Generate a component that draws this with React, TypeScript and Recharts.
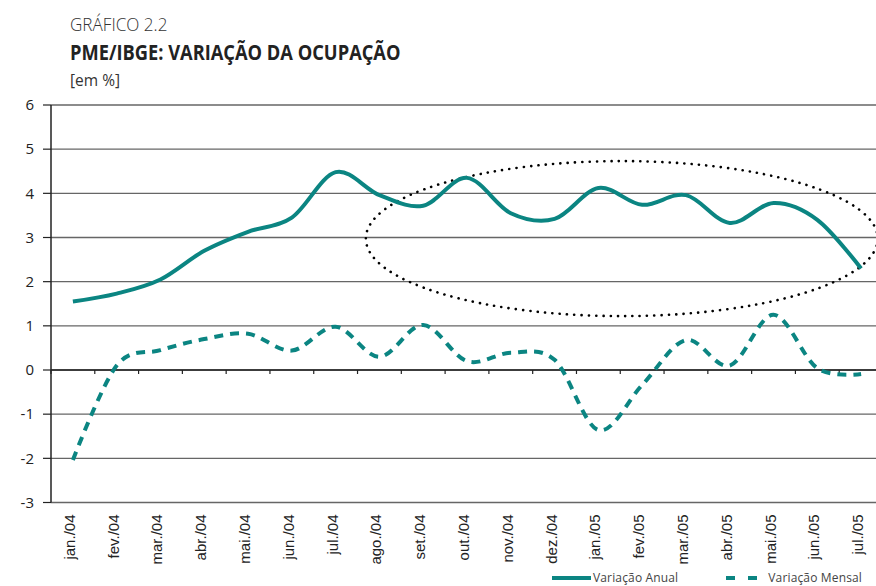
import React from 'react';
import {
  ComposedChart,
  Line,
  XAxis,
  YAxis,
  CartesianGrid,
  ReferenceLine,
  ReferenceArea,
  Legend,
} from 'recharts';

const months = [
  'jan./04', 'fev./04', 'mar./04', 'abr./04', 'mai./04', 'jun./04', 'jul./04',
  'ago./04', 'set./04', 'out./04', 'nov./04', 'dez./04', 'jan./05', 'fev./05',
  'mar./05', 'abr./05', 'mai./05', 'jun./05', 'jul./05',
];
const variacaoAnual = [
  1.55, 1.73, 2.05, 2.7, 3.13, 3.45, 4.48, 3.96, 3.72, 4.35, 3.55, 3.42, 4.12,
  3.74, 3.96, 3.33, 3.78, 3.4, 2.3,
];
const variacaoMensal = [
  -2.04, 0.1, 0.45, 0.7, 0.82, 0.44, 0.98, 0.3, 1.02, 0.2, 0.39, 0.23, -1.36,
  -0.34, 0.68, 0.1, 1.25, 0.04, -0.09,
];
const yTicks = [-3, -2, -1, 0, 1, 2, 3, 4, 5, 6];
// highlight ellipse bounds: x in category-index units, y in %
const highlightX = [6.69, 18.38];
const highlightY = [1.22, 4.73];

const TEAL = '#0b8582';

const data = months.map((m, i) => ({
  month: m,
  anual: variacaoAnual[i],
  mensal: variacaoMensal[i],
}));

// Excel-like smoothed line (uniform Catmull-Rom / cardinal with tension 0)
function excelSmooth(context: any) {
  const k = 1 / 6;
  let x0 = NaN, y0 = NaN, x1 = NaN, y1 = NaN, x2 = NaN, y2 = NaN;
  let pt = 0;
  let line: number = NaN;
  const seg = (x: number, y: number) => {
    context.bezierCurveTo(
      x1 + k * (x2 - x0),
      y1 + k * (y2 - y0),
      x2 + k * (x1 - x),
      y2 + k * (y1 - y),
      x2,
      y2
    );
  };
  return {
    areaStart() { line = 0; },
    areaEnd() { line = NaN; },
    lineStart() { x0 = x1 = x2 = y0 = y1 = y2 = NaN; pt = 0; },
    lineEnd() {
      switch (pt) {
        case 2: context.lineTo(x2, y2); break;
        case 3: seg(x1, y1); break;
      }
      if (line || (line !== 0 && pt === 1)) context.closePath();
      line = 1 - line;
    },
    point(x: number, y: number) {
      x = +x; y = +y;
      switch (pt) {
        case 0: pt = 1; line ? context.lineTo(x, y) : context.moveTo(x, y); break;
        case 1: pt = 2; x1 = x; y1 = y; break;
        case 2: pt = 3; seg(x, y); break;
        default: seg(x, y); break;
      }
      x0 = x1; x1 = x2; x2 = x;
      y0 = y1; y1 = y2; y2 = y;
    },
  };
}

const XTick = (props: any) => {
  const { x, y, payload } = props;
  return (
    <text
      x={x}
      y={y}
      dy={2}
      transform={`rotate(-90, ${x}, ${y})`}
      textAnchor="end"
      fontFamily="'Liberation Sans', Arial, sans-serif"
      fontSize={15}
      fill="#222"
    >
      {payload.value}
    </text>
  );
};

const ZeroAxis = (props: any) => {
  const { x1, y1, x2, y2 } = props;
  const n = months.length;
  const ticks = [];
  for (let i = 0; i <= n; i++) {
    const tx = x1 + ((x2 - x1) * i) / n;
    ticks.push(<line key={i} x1={tx} x2={tx} y1={y1} y2={y1 + 4} stroke="#222" strokeWidth={1.2} />);
  }
  return (
    <g>
      <line x1={x1} y1={y1} x2={x2} y2={y2} stroke="#222" strokeWidth={1.5} />
      {ticks}
    </g>
  );
};

// The reference area spans all category bands; the ellipse is placed inside it
// using category-index coordinates (band centre of item i = i + 0.5 bands).
const Ellipse = (props: any) => {
  const { x, y, width, height } = props;
  const band = width / months.length;
  const left = x + (highlightX[0] + 0.5) * band;
  const right = x + (highlightX[1] + 0.5) * band;
  return (
    <ellipse
      cx={(left + right) / 2}
      cy={y + height / 2}
      rx={(right - left) / 2}
      ry={height / 2}
      fill="none"
      stroke="#000"
      strokeWidth={2.6}
      strokeDasharray="0.1 7.2"
      strokeLinecap="round"
    />
  );
};

const LegendContent = () => (
  <div
    style={{
      display: 'flex',
      alignItems: 'center',
      fontFamily: "'Open Sans', sans-serif",
      fontSize: 12,
      lineHeight: '14px',
      letterSpacing: 0.15,
      color: '#444',
      whiteSpace: 'nowrap',
    }}
  >
    <svg width={41} height={8} style={{ display: 'block' }}>
      <line x1={1} x2={40} y1={4} y2={4} stroke={TEAL} strokeWidth={4} />
    </svg>
    <span style={{ marginLeft: 1 }}>Variação Anual</span>
    <svg width={32} height={8} style={{ display: 'block', marginLeft: 48 }}>
      <line x1={0} x2={32} y1={4} y2={4} stroke={TEAL} strokeWidth={4} strokeDasharray="9 13" />
    </svg>
    <span style={{ marginLeft: 10 }}>Variação Mensal</span>
  </div>
);

export default function App() {
  return (
    <div
      style={{
        position: 'fixed',
        left: 0,
        top: 0,
        width: 876,
        height: 586,
        overflow: 'hidden',
        background: '#fff',
      }}
    >
      <div
        style={{
          position: 'absolute',
          left: 70,
          top: 12,
          fontFamily: "'Open Sans', sans-serif",
          color: '#333',
          zIndex: 2,
        }}
      >
        <div style={{ fontSize: 18, fontWeight: 300, lineHeight: '24px', transform: 'scaleX(0.95)', transformOrigin: 'left' }}>
          GRÁFICO 2.2
        </div>
        <div
          style={{
            fontSize: 22,
            fontWeight: 700,
            lineHeight: '28px',
            marginTop: 1,
            color: '#222',
            transform: 'scaleX(0.83)',
            transformOrigin: 'left',
            whiteSpace: 'nowrap',
          }}
        >
          PME/IBGE: VARIAÇÃO DA OCUPAÇÃO
        </div>
        <div style={{ fontSize: 15.5, lineHeight: '22px', marginTop: 4 }}>[em %]</div>
      </div>
      <ComposedChart
        width={890}
        height={586}
        data={data}
        margin={{ top: 105, right: 7, bottom: 0, left: 0 }}
      >
        <CartesianGrid
          vertical={false}
          horizontal
          stroke="#666"
          strokeWidth={1.3}
          horizontalValues={yTicks}
        />
        <XAxis
          dataKey="month"
          type="category"
          scale="band"
          axisLine={false}
          tickLine={false}
          tickSize={0}
          tickMargin={12}
          height={83.5}
          interval={0}
          tick={<XTick />}
        />
        <YAxis
          type="number"
          domain={[-3, 6]}
          ticks={yTicks}
          interval={0}
          width={51}
          axisLine={{ stroke: '#222', strokeWidth: 1.5 }}
          tickLine={{ stroke: '#222', strokeWidth: 1.2 }}
          tickSize={8}
          tickMargin={9}
          tick={{ fontFamily: "'Open Sans', sans-serif", fontSize: 15, fill: '#222' }}
        />
        <ReferenceLine y={0} shape={<ZeroAxis />} />
        <Line
          dataKey="anual"
          name="Variação Anual"
          type={excelSmooth as any}
          stroke={TEAL}
          strokeWidth={4}
          dot={false}
          activeDot={false}
          isAnimationActive={false}
        />
        <Line
          dataKey="mensal"
          name="Variação Mensal"
          type={excelSmooth as any}
          stroke={TEAL}
          strokeWidth={4}
          strokeDasharray="9 7"
          dot={false}
          activeDot={false}
          isAnimationActive={false}
        />
        <ReferenceArea
          x1={months[0]}
          x2={months[months.length - 1]}
          y1={highlightY[0]}
          y2={highlightY[1]}
          ifOverflow="visible"
          shape={<Ellipse />}
        />
        <Legend
          layout="horizontal"
          verticalAlign="middle"
          align="center"
          content={<LegendContent />}
          wrapperStyle={{ top: 571, left: 551, width: 330, height: 14 }}
        />
      </ComposedChart>
    </div>
  );
}
